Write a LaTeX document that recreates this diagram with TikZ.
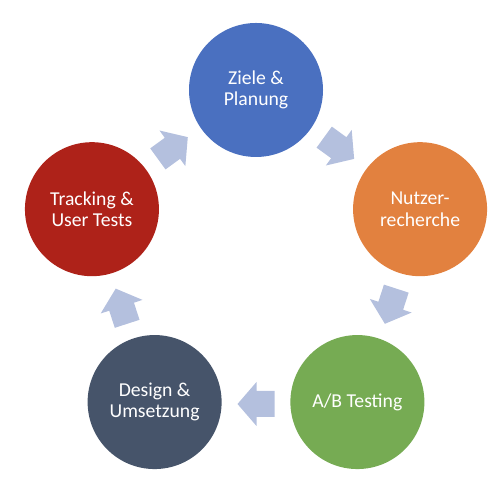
\documentclass[tikz,border=0pt]{standalone}
\usepackage{fontspec}
\setmainfont{Carlito}
\usepackage{tikz}
\usetikzlibrary{calc}

\definecolor{zielblue}{HTML}{4A70C0}
\definecolor{nutzerorange}{HTML}{E2813F}
\definecolor{testgreen}{HTML}{76AB53}
\definecolor{designslate}{HTML}{46546A}
\definecolor{trackred}{HTML}{AE2219}
\definecolor{flowblue}{HTML}{B4C0DE}

\tikzset{
  phase/.style={circle, minimum size=2.68cm, inner sep=0pt, text=white, align=center,
    font=\fontsize{11.2}{12.3}\selectfont},
  flow/.style={fill=flowblue, draw=none},
}

\begin{document}
\begin{tikzpicture}
\useasboundingbox (0,0) rectangle (10,10);
\coordinate (mid) at (5.12,4.75);

% the five phases
\node[phase, fill=zielblue] (ziele) at ($(mid)+(90:3.45)$) {Ziele \&\\Planung};
\node[phase, fill=nutzerorange] (nutzer) at ($(mid)+(18:3.45)$) {Nutzer-\\recherche};
\node[phase, fill=testgreen] (abtest) at ($(mid)+(-54:3.45)$) {A/B Testing};
\node[phase, fill=designslate] (design) at ($(mid)+(-126:3.45)$) {Design \&\\Umsetzung};
\node[phase, fill=trackred] (tracking) at ($(mid)+(162:3.45)$) {Tracking \&\\User Tests};

% block arrows in between
\foreach \a/\n in {54/zn, -18/na, -90/ad, -162/dt, 126/tz} {
  \coordinate (\n) at ($(mid)+(\a:2.83)$);
  \fill[flow, shift={(\n)}, rotate=\a-90]
    (-0.37,-0.26) -- (-0.01,-0.26) -- (-0.01,-0.44) -- (0.37,0)
    -- (-0.01,0.44) -- (-0.01,0.26) -- (-0.37,0.26) -- cycle;
}

\end{tikzpicture}
\end{document}
